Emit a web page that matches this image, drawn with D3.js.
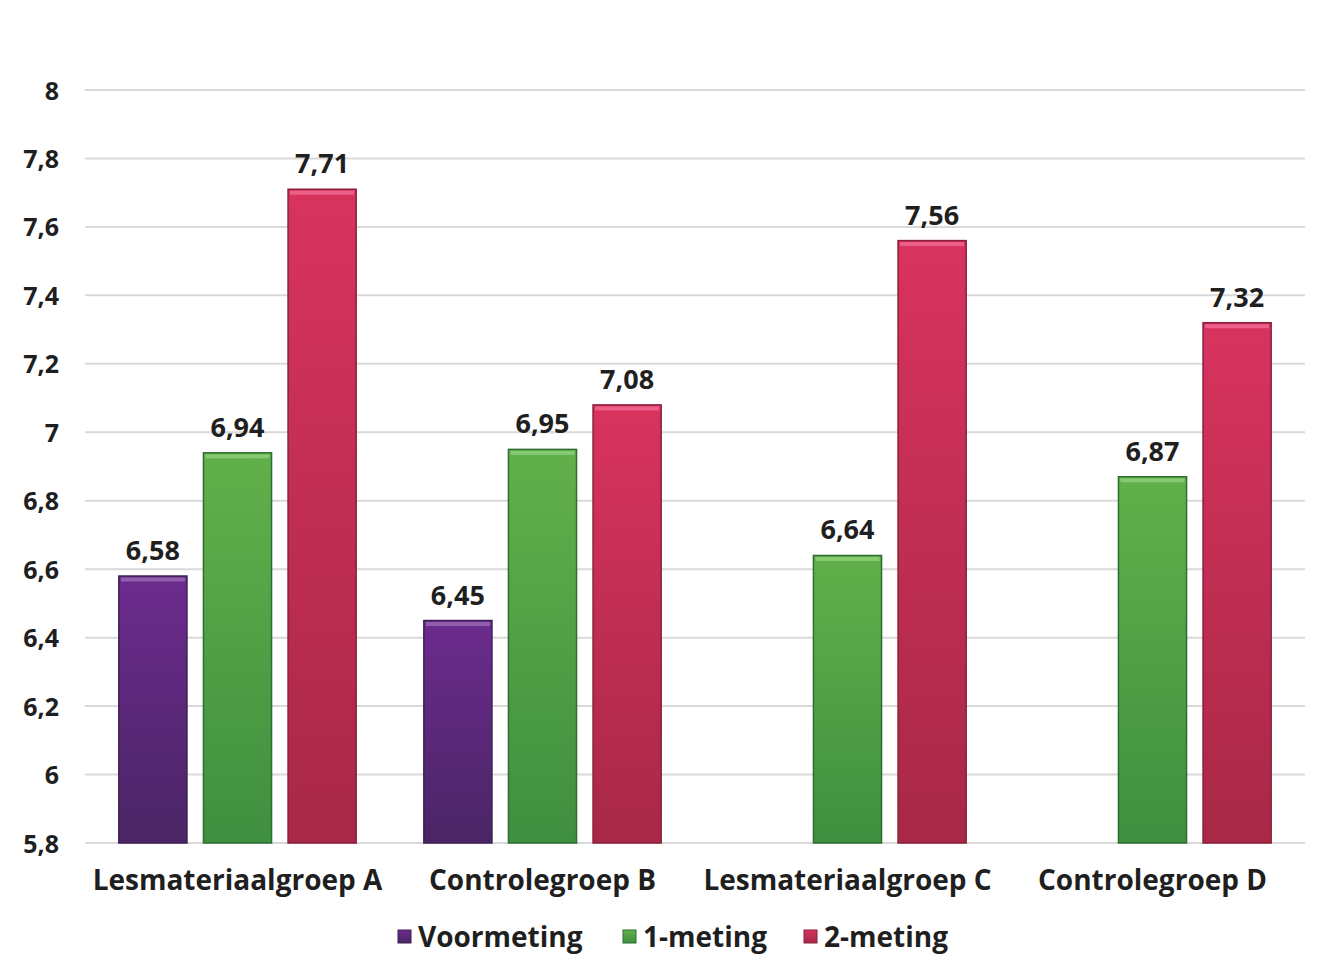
<!DOCTYPE html>
<html><head><meta charset="utf-8">
<script src="https://cdn.jsdelivr.net/npm/d3@7/dist/d3.min.js"></script>
<style>
body{margin:0;background:#fff;}
text{font-family:"Open Sans","Lato",sans-serif;font-weight:bold;fill:#1f1f1f;}
</style></head><body>
<svg id="c" width="1326" height="976"></svg>
<script>
const categories = ["Lesmateriaalgroep A","Controlegroep B","Lesmateriaalgroep C","Controlegroep D"];
const seriesNames = ["Voormeting","1-meting","2-meting"];
const voormeting = [6.58, 6.45, null, null];
const meting1 = [6.94, 6.95, 6.64, 6.87];
const meting2 = [7.71, 7.08, 7.56, 7.32];
const yTicks = [5.8,6,6.2,6.4,6.6,6.8,7,7.2,7.4,7.6,7.8,8];
const colors = {
  "Voormeting": {top:"#6c2b8e", bot:"#4a2565", edge:"#3d1f55", cap:"#9a6bb3"},
  "1-meting": {top:"#62b04a", bot:"#3f8f40", edge:"#2f6e32", cap:"#8fd07a"},
  "2-meting": {top:"#d8335f", bot:"#a82846", edge:"#8a1f3a", cap:"#f06a94"}
};
const values = [voormeting, meting1, meting2];

const svg = d3.select("#c");
const L = 85, R = 1305, T = 90, B = 843;
const y = d3.scaleLinear().domain([5.8, 8]).range([B, T]);
const x0 = d3.scaleBand().domain(categories).range([L, R]).padding(0);
const x1 = d3.scaleBand().domain(seriesNames).range([0, x0.bandwidth()]).paddingInner(0.195).paddingOuter(0.4);
const fmt = v => String(v).replace(".", ",");
const FONT = "'Open Sans', Lato, sans-serif";

const defs = svg.append("defs");
seriesNames.forEach((s,i) => {
  const g = defs.append("linearGradient").attr("id","g"+i).attr("x1",0).attr("y1",0).attr("x2",0).attr("y2",1);
  g.append("stop").attr("offset","0%").attr("stop-color",colors[s].top);
  g.append("stop").attr("offset","100%").attr("stop-color",colors[s].bot);
});

// gridlines
svg.append("g").selectAll("line").data(yTicks).join("line")
  .attr("x1", L).attr("x2", R).attr("y1", d => y(d)).attr("y2", d => y(d))
  .attr("stroke", "#d9d9d9").attr("stroke-width", 2);

// y axis labels
const yAxis = d3.axisLeft(y).tickValues(yTicks).tickSize(0).tickPadding(0).tickFormat(fmt);
const ya = svg.append("g").attr("transform", `translate(59,0)`).call(yAxis);
ya.select(".domain").remove();
ya.selectAll("text").attr("font-size", 25).attr("dy", "0.36em").style("font-family",FONT).style("font-weight","bold").attr("fill","#1f1f1f");

// bars
const data = [];
categories.forEach((c, ci) => seriesNames.forEach((s, si) => {
  const v = values[si][ci];
  if (v != null) data.push({c, s, si, v});
}));
const bars = svg.append("g").selectAll("g").data(data).join("g")
  .attr("transform", d => `translate(${x0(d.c) + x1(d.s)},0)`);
bars.append("rect")
  .attr("x", 0).attr("width", x1.bandwidth())
  .attr("y", d => y(d.v)).attr("height", d => B - y(d.v))
  .attr("fill", d => `url(#g${d.si})`)
  .attr("stroke", d => colors[d.s].edge).attr("stroke-width", 1.5);
bars.append("rect")
  .attr("x", 2).attr("width", x1.bandwidth() - 4)
  .attr("y", d => y(d.v) + 1.5).attr("height", 4)
  .attr("fill", d => colors[d.s].cap).attr("opacity", 0.8);
bars.append("text")
  .attr("x", x1.bandwidth()/2).attr("y", d => y(d.v) - 16)
  .attr("text-anchor", "middle").attr("font-size", 27)
  .text(d => fmt(d.v));

// x axis labels
const xAxis = d3.axisBottom(x0).tickSize(0).tickPadding(0);
const xa = svg.append("g").attr("transform", `translate(0,${B})`).call(xAxis);
xa.select(".domain").remove();
xa.selectAll("text").attr("y", 47).attr("dy", 0).attr("font-size", 28)
  .style("font-family",FONT).style("font-weight","bold").attr("fill","#1f1f1f");

// legend
const legX = [398, 623, 804];
const leg = svg.append("g").selectAll("g").data(seriesNames).join("g")
  .attr("transform", (d,i) => `translate(${legX[i]},937)`);
leg.append("rect").attr("x",0).attr("y",-7).attr("width",13).attr("height",13)
  .attr("fill", (d,i) => `url(#g${i})`).attr("stroke", d => colors[d].edge);
leg.append("text").attr("x", 20).attr("y", 10).attr("font-size", 28).text(d => d);
</script>
</body></html>
